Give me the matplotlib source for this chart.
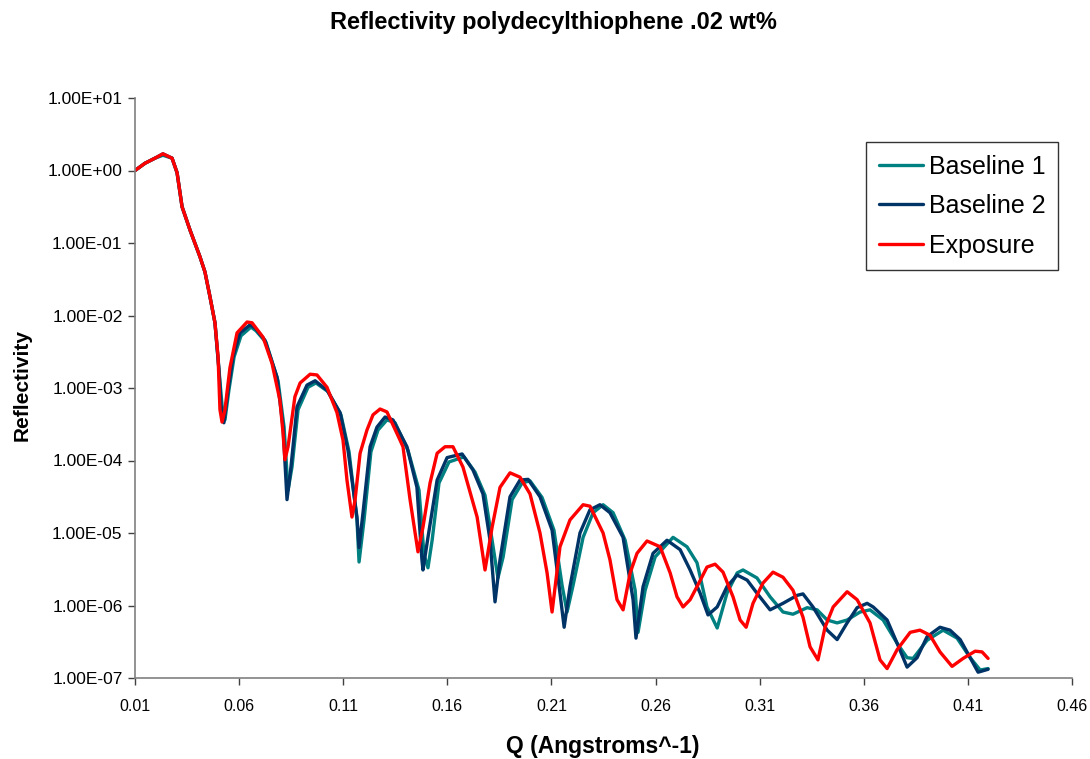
import numpy as np
import matplotlib
matplotlib.use("Agg")
import matplotlib.pyplot as plt
from matplotlib.ticker import FixedLocator, FuncFormatter, NullLocator

plt.rcParams["font.family"] = ["Liberation Sans", "DejaVu Sans"]

# Q in 1/Angstrom, reflectivity given as log10(R)
q_b1 = [0.0100, 0.0148, 0.0196, 0.0234, 0.0278, 0.0302, 0.0326, 0.0364, 0.0412, 0.0436,
        0.0460, 0.0484, 0.0503, 0.0518, 0.0532, 0.0551, 0.0576, 0.0609, 0.0657, 0.0681,
        0.0729, 0.0787, 0.0816, 0.0835, 0.0854, 0.0883, 0.0931, 0.0969, 0.1027, 0.1089,
        0.1128, 0.1166, 0.1176, 0.1200, 0.1233, 0.1267, 0.1310, 0.1349, 0.1411, 0.1464,
        0.1488, 0.1507, 0.1527, 0.1560, 0.1608, 0.1680, 0.1733, 0.1781, 0.1815, 0.1843,
        0.1868, 0.1911, 0.1959, 0.1997, 0.2055, 0.2112, 0.2151, 0.2175, 0.2204, 0.2252,
        0.2300, 0.2348, 0.2396, 0.2454, 0.2502, 0.2516, 0.2550, 0.2598, 0.2684, 0.2751,
        0.2799, 0.2847, 0.2896, 0.2943, 0.2992, 0.3020, 0.3087, 0.3150, 0.3212, 0.3260,
        0.3328, 0.3376, 0.3424, 0.3472, 0.3520, 0.3582, 0.3630, 0.3693, 0.3760, 0.3808,
        0.3837, 0.3904, 0.3981, 0.4048, 0.4111, 0.4159, 0.4197]
lr_b1 = [0.00, 0.10, 0.17, 0.21, 0.17, -0.03, -0.50, -0.82, -1.19, -1.40,
         -1.74, -2.10, -2.74, -3.24, -3.44, -3.03, -2.57, -2.28, -2.16, -2.21,
         -2.37, -2.90, -3.54, -4.41, -4.09, -3.30, -2.99, -2.93, -3.05, -3.37,
         -3.88, -4.82, -5.40, -4.82, -3.88, -3.58, -3.44, -3.48, -3.86, -4.41,
         -5.30, -5.48, -5.10, -4.31, -4.02, -3.95, -4.16, -4.48, -5.10, -5.62,
         -5.33, -4.54, -4.31, -4.28, -4.51, -4.96, -5.72, -6.09, -5.72, -5.06,
         -4.72, -4.61, -4.72, -5.10, -5.79, -6.37, -5.79, -5.33, -5.06, -5.19,
         -5.41, -6.02, -6.31, -5.83, -5.55, -5.51, -5.62, -5.88, -6.09, -6.12,
         -6.03, -6.06, -6.20, -6.24, -6.20, -6.09, -6.06, -6.20, -6.52, -6.72,
         -6.73, -6.48, -6.34, -6.45, -6.72, -6.89, -6.87]

q_b2 = [0.0100, 0.0148, 0.0196, 0.0234, 0.0278, 0.0302, 0.0326, 0.0364, 0.0412, 0.0436,
        0.0460, 0.0484, 0.0503, 0.0513, 0.0527, 0.0547, 0.0571, 0.0604, 0.0652, 0.0676,
        0.0724, 0.0782, 0.0811, 0.0830, 0.0849, 0.0878, 0.0926, 0.0965, 0.1022, 0.1085,
        0.1123, 0.1166, 0.1176, 0.1195, 0.1229, 0.1262, 0.1301, 0.1339, 0.1406, 0.1454,
        0.1478, 0.1483, 0.1507, 0.1551, 0.1599, 0.1671, 0.1723, 0.1771, 0.1805, 0.1829,
        0.1853, 0.1901, 0.1949, 0.1988, 0.2045, 0.2103, 0.2141, 0.2161, 0.2189, 0.2237,
        0.2285, 0.2333, 0.2381, 0.2444, 0.2492, 0.2506, 0.2540, 0.2588, 0.2655, 0.2718,
        0.2766, 0.2814, 0.2852, 0.2896, 0.2943, 0.2992, 0.3040, 0.3087, 0.3150, 0.3212,
        0.3280, 0.3308, 0.3356, 0.3424, 0.3472, 0.3520, 0.3568, 0.3616, 0.3645, 0.3712,
        0.3760, 0.3808, 0.3856, 0.3904, 0.3966, 0.4014, 0.4063, 0.4111, 0.4149, 0.4197]
lr_b2 = [0.00, 0.10, 0.17, 0.23, 0.17, -0.03, -0.50, -0.82, -1.19, -1.40,
         -1.74, -2.10, -2.74, -3.24, -3.48, -3.03, -2.57, -2.24, -2.13, -2.17,
         -2.34, -2.85, -3.54, -4.54, -4.09, -3.26, -2.96, -2.90, -3.03, -3.34,
         -3.86, -4.78, -5.20, -4.72, -3.81, -3.54, -3.40, -3.44, -3.81, -4.37,
         -5.37, -5.51, -5.06, -4.27, -3.96, -3.91, -4.13, -4.46, -5.10, -5.95,
         -5.37, -4.50, -4.27, -4.26, -4.50, -4.96, -5.83, -6.30, -5.74, -5.00,
         -4.68, -4.61, -4.72, -5.06, -5.92, -6.45, -5.74, -5.28, -5.10, -5.23,
         -5.51, -5.83, -6.13, -6.02, -5.74, -5.58, -5.65, -5.83, -6.06, -5.97,
         -5.86, -5.84, -6.02, -6.34, -6.47, -6.24, -6.03, -5.97, -6.02, -6.20,
         -6.52, -6.85, -6.72, -6.43, -6.30, -6.34, -6.47, -6.72, -6.92, -6.88]

q_exp = [0.0100, 0.0148, 0.0196, 0.0234, 0.0278, 0.0302, 0.0326, 0.0364, 0.0412, 0.0436,
         0.0460, 0.0484, 0.0499, 0.0508, 0.0518, 0.0532, 0.0556, 0.0590, 0.0638, 0.0662,
         0.0715, 0.0758, 0.0796, 0.0811, 0.0820, 0.0835, 0.0868, 0.0893, 0.0941, 0.0974,
         0.1022, 0.1070, 0.1099, 0.1118, 0.1142, 0.1157, 0.1181, 0.1214, 0.1243, 0.1277,
         0.1310, 0.1373, 0.1387, 0.1421, 0.1459, 0.1483, 0.1517, 0.1551, 0.1589, 0.1627,
         0.1675, 0.1743, 0.1781, 0.1815, 0.1853, 0.1901, 0.1949, 0.1997, 0.2045, 0.2079,
         0.2103, 0.2141, 0.2189, 0.2252, 0.2285, 0.2348, 0.2381, 0.2415, 0.2444, 0.2478,
         0.2511, 0.2559, 0.2622, 0.2670, 0.2703, 0.2732, 0.2766, 0.2799, 0.2847, 0.2886,
         0.2924, 0.2972, 0.3006, 0.3035, 0.3068, 0.3116, 0.3164, 0.3212, 0.3260, 0.3308,
         0.3342, 0.3380, 0.3414, 0.3453, 0.3520, 0.3568, 0.3630, 0.3678, 0.3712, 0.3760,
         0.3823, 0.3870, 0.3918, 0.3966, 0.4024, 0.4077, 0.4135, 0.4168, 0.4197]
lr_exp = [0.00, 0.10, 0.17, 0.23, 0.17, -0.03, -0.50, -0.82, -1.19, -1.40,
          -1.74, -2.10, -2.57, -3.30, -3.47, -3.30, -2.72, -2.24, -2.09, -2.10,
          -2.30, -2.66, -3.17, -3.62, -3.99, -3.81, -3.12, -2.93, -2.81, -2.82,
          -2.99, -3.34, -3.72, -4.27, -4.78, -4.54, -3.90, -3.58, -3.37, -3.29,
          -3.33, -3.72, -3.81, -4.54, -5.26, -4.92, -4.31, -3.90, -3.81, -3.81,
          -4.09, -4.78, -5.51, -4.92, -4.37, -4.17, -4.23, -4.46, -5.00, -5.55,
          -6.09, -5.19, -4.82, -4.61, -4.63, -5.00, -5.37, -5.92, -6.06, -5.55,
          -5.28, -5.11, -5.19, -5.55, -5.88, -6.02, -5.92, -5.74, -5.47, -5.43,
          -5.54, -5.88, -6.20, -6.30, -5.97, -5.69, -5.54, -5.61, -5.79, -6.16,
          -6.57, -6.75, -6.30, -6.02, -5.81, -5.92, -6.24, -6.75, -6.87, -6.61,
          -6.37, -6.34, -6.41, -6.64, -6.84, -6.73, -6.63, -6.64, -6.73]

x_ticks = [0.01, 0.06, 0.11, 0.16, 0.21, 0.26, 0.31, 0.36, 0.41, 0.46]
y_ticks = [1e-7, 1e-6, 1e-5, 1e-4, 1e-3, 1e-2, 1e-1, 1e0, 1e1]

fig = plt.figure(figsize=(10.9, 7.59), dpi=100)
ax = fig.add_axes([135/1090, 1-678/759, 937/1090, 580/759])

line_kw = dict(lw=2.4, solid_joinstyle="round", solid_capstyle="round")
ax.plot(q_b1, 10**np.array(lr_b1), color="#008080", label="Baseline 1", **line_kw)
ax.plot(q_b2, 10**np.array(lr_b2), color="#003366", label="Baseline 2", **line_kw)
ax.plot(q_exp, 10**np.array(lr_exp), color="#ff0000", label="Exposure", **line_kw)

ax.set_yscale("log")
ax.set_xlim(0.01, 0.46)
ax.set_ylim(1e-7, 1e1)
ax.xaxis.set_major_locator(FixedLocator(x_ticks))
ax.xaxis.set_major_formatter(FuncFormatter(lambda v, p: f"{v:.2f}"))
ax.yaxis.set_major_locator(FixedLocator(y_ticks))
ax.yaxis.set_minor_locator(NullLocator())
ax.yaxis.set_major_formatter(FuncFormatter(lambda v, p: f"{v:.2E}"))

for s in ["top", "right"]:
    ax.spines[s].set_visible(False)
for s in ["left", "bottom"]:
    ax.spines[s].set_color("#808080")
    ax.spines[s].set_linewidth(1.2)
ax.tick_params(axis="both", direction="out", length=5, width=1, color="#404040")
ax.tick_params(axis="y", labelsize=12.5, pad=4)
ax.tick_params(axis="x", labelsize=11.5, pad=10)

fig.text(553/1090, 1-23/759, "Reflectivity polydecylthiophene .02 wt%",
         ha="center", va="center", fontsize=17, fontweight="bold")
fig.text(603/1090, 1-746/759, "Q (Angstroms^-1)", ha="center", va="center",
         fontsize=16.5, fontweight="bold")
fig.text(22/1090, 1-385/759, "Reflectivity", ha="center", va="center",
         rotation=90, fontsize=15, fontweight="bold")

leg = ax.legend(loc="upper right", bbox_to_anchor=(1058/1090, 1-142/759),
                bbox_transform=fig.transFigure, borderaxespad=0, fontsize=18,
                frameon=True, fancybox=False, edgecolor="black",
                handlelength=1.75, handletextpad=0.25, labelspacing=0.62,
                borderpad=0.5)
leg.get_frame().set_linewidth(1)

fig.savefig("out.png", dpi=100)
